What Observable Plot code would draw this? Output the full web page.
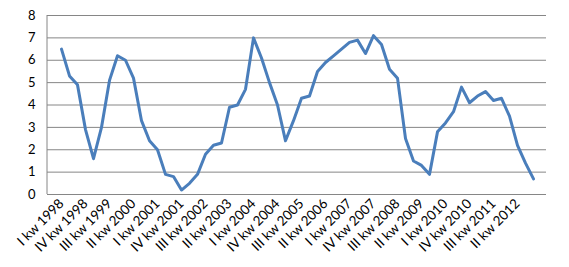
<!DOCTYPE html>
<html><head><meta charset="utf-8">
<script src="https://cdn.jsdelivr.net/npm/d3@7"></script>
<script src="https://cdn.jsdelivr.net/npm/@observablehq/plot@0.6"></script>
<style>body{margin:0;background:#fff}</style>
</head><body><div id="chart"></div>
<script>
const quarters = [
  "I kw 1998","II kw 1998","III kw 1998","IV kw 1998",
  "I kw 1999","II kw 1999","III kw 1999","IV kw 1999",
  "I kw 2000","II kw 2000","III kw 2000","IV kw 2000",
  "I kw 2001","II kw 2001","III kw 2001","IV kw 2001",
  "I kw 2002","II kw 2002","III kw 2002","IV kw 2002",
  "I kw 2003","II kw 2003","III kw 2003","IV kw 2003",
  "I kw 2004","II kw 2004","III kw 2004","IV kw 2004",
  "I kw 2005","II kw 2005","III kw 2005","IV kw 2005",
  "I kw 2006","II kw 2006","III kw 2006","IV kw 2006",
  "I kw 2007","II kw 2007","III kw 2007","IV kw 2007",
  "I kw 2008","II kw 2008","III kw 2008","IV kw 2008",
  "I kw 2009","II kw 2009","III kw 2009","IV kw 2009",
  "I kw 2010","II kw 2010","III kw 2010","IV kw 2010",
  "I kw 2011","II kw 2011","III kw 2011","IV kw 2011",
  "I kw 2012","II kw 2012","III kw 2012","IV kw 2012"
];
const values = [
  6.5, 5.3, 4.9, 2.9,
  1.6, 3.0, 5.1, 6.2,
  6.0, 5.2, 3.3, 2.4,
  2.0, 0.9, 0.8, 0.2,
  0.5, 0.9, 1.8, 2.2,
  2.3, 3.9, 4.0, 4.7,
  7.0, 6.1, 5.0, 4.0,
  2.4, 3.3, 4.3, 4.4,
  5.5, 5.9, 6.2, 6.5,
  6.8, 6.9, 6.3, 7.1,
  6.7, 5.6, 5.2, 2.5,
  1.5, 1.3, 0.9, 2.8,
  3.2, 3.7, 4.8, 4.1,
  4.4, 4.6, 4.2, 4.3,
  3.5, 2.2, 1.4, 0.7
];
const yTicks = [0, 1, 2, 3, 4, 5, 6, 7, 8];
const xTickLabels = quarters.filter((d, i) => i % 3 === 0);
const data = quarters.map((q, i) => ({q, v: values[i]}));

const leftLine = (index, scales, vals, dims) => {
  const g = d3.create("svg:line")
    .attr("x1", dims.marginLeft).attr("x2", dims.marginLeft)
    .attr("y1", dims.marginTop).attr("y2", dims.height - dims.marginBottom)
    .attr("stroke", "#868686").attr("stroke-width", 1);
  return g.node();
};

const chart = Plot.plot({
  width: 569, height: 267,
  marginLeft: 47, marginRight: 23, marginTop: 15, marginBottom: 73,
  style: {fontFamily: "Lato, 'Open Sans', sans-serif", fontSize: "13px", color: "#000", background: "#fff"},
  x: {type: "point", domain: quarters, padding: 0.5, label: null},
  y: {domain: [0, 8], label: null},
  marks: [
    Plot.gridY(yTicks, {stroke: "#868686", strokeOpacity: 1}),
    leftLine,
    Plot.axisY(yTicks, {tickSize: 0, tickPadding: 12, fontSize: 13}),
    Plot.axisX(xTickLabels, {tickSize: 0, tickRotate: -45, tickPadding: 7, fontSize: 13.5}),
    Plot.lineY(data, {x: "q", y: "v", stroke: "#4A7EBB", strokeWidth: 3, strokeLinejoin: "round"})
  ]
});
document.getElementById("chart").appendChild(chart);
</script>
</body></html>
